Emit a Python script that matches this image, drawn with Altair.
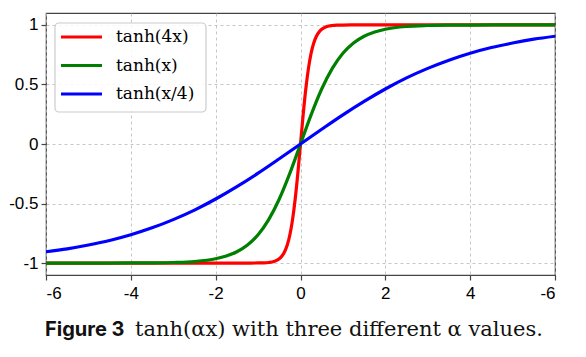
import altair as alt
import pandas as pd

# ---- data ----
series_names = ["tanh(4x)", "tanh(x)", "tanh(x/4)"]
series_colors = ["#ff0000", "#008000", "#0000ff"]

red_x = [-6, -1.5, -1, -0.875, -0.75, -0.625, -0.5, -0.4375, -0.375, -0.3125, -0.25, -0.1875, -0.125, -0.0625, 0,
         0.0625, 0.125, 0.1875, 0.25, 0.3125, 0.375, 0.4375, 0.5, 0.625, 0.75, 0.875, 1, 1.5, 6]
red_y = [-1.0, -1.0, -0.999, -0.998, -0.995, -0.987, -0.964, -0.941, -0.905, -0.848, -0.762, -0.635, -0.462, -0.245, 0.0,
         0.245, 0.462, 0.635, 0.762, 0.848, 0.905, 0.941, 0.964, 0.987, 0.995, 0.998, 0.999, 1.0, 1.0]

green_x = [-6, -5, -4, -3.5, -3, -2.5, -2, -1.75, -1.5, -1.25, -1, -0.75, -0.5, -0.25, 0,
           0.25, 0.5, 0.75, 1, 1.25, 1.5, 1.75, 2, 2.5, 3, 3.5, 4, 5, 6]
green_y = [-1.0, -1.0, -0.999, -0.998, -0.995, -0.987, -0.964, -0.941, -0.905, -0.848, -0.762, -0.635, -0.462, -0.245, 0.0,
           0.245, 0.462, 0.635, 0.762, 0.848, 0.905, 0.941, 0.964, 0.987, 0.995, 0.998, 0.999, 1.0, 1.0]

blue_x = [-6, -5.5, -5, -4.5, -4, -3.5, -3, -2.5, -2, -1.5, -1, -0.5, 0,
          0.5, 1, 1.5, 2, 2.5, 3, 3.5, 4, 4.5, 5, 5.5, 6]
blue_y = [-0.905, -0.880, -0.848, -0.810, -0.762, -0.704, -0.635, -0.555, -0.462, -0.358, -0.245, -0.124, 0.0,
          0.124, 0.245, 0.358, 0.462, 0.555, 0.635, 0.704, 0.762, 0.810, 0.848, 0.880, 0.905]

x_ticks = [-6, -4, -2, 0, 2, 4, 6]
x_tick_labels = ["-6", "-4", "-2", "0", "2", "4", "-6"]
y_ticks = [-1, -0.5, 0, 0.5, 1]
y_tick_labels = ["-1", "-0.5", "0", "0.5", "1"]

caption_bold = "Figure 3"
caption_rest = "tanh(αx) with three different α values."

# ---- build tables ----
frames = []
for name, xs, ys in zip(series_names, [red_x, green_x, blue_x], [red_y, green_y, blue_y]):
    frames.append(pd.DataFrame({"x": xs, "y": ys, "series": name}))
df = pd.concat(frames, ignore_index=True)

W, H = 509, 262

xlab = "{" + ",".join(f"'{v}':'{l}'" for v, l in zip(x_ticks, x_tick_labels)) + "}"
ylab = "{" + ",".join(f"'{v}':'{l}'" for v, l in zip(y_ticks, y_tick_labels)) + "}"

x_enc = alt.X("x:Q", scale=alt.Scale(domain=[-6, 6], nice=False, zero=False),
              axis=alt.Axis(values=x_ticks, labelExpr=f"{xlab}[''+datum.value]", title=None,
                            labelPadding=5))
y_enc = alt.Y("y:Q", scale=alt.Scale(domain=[-1.1, 1.1], nice=False, zero=False),
              axis=alt.Axis(values=y_ticks, labelExpr=f"{ylab}[''+datum.value]", title=None,
                            labelPadding=3))

line_layers = []
for name, col in zip(series_names, series_colors):
    line_layers.append(
        alt.Chart(df).transform_filter(alt.datum.series == name)
        .mark_line(strokeWidth=3.2, interpolate="monotone", clip=True)
        .encode(x=x_enc, y=y_enc, color=alt.value(col))
    )
lines = alt.layer(*line_layers)

# ---- legend (custom, inside the plot) ----
leg_df = pd.DataFrame({"label": series_names, "color": series_colors, "i": list(range(len(series_names)))})
box = alt.Chart(pd.DataFrame({"a": [0]})).mark_rect(
    fill="white", fillOpacity=0.85, stroke="#cccccc", strokeWidth=1.2, cornerRadius=4
).encode(x=alt.value(9), x2=alt.value(160), y=alt.value(10), y2=alt.value(99))
leg_base = alt.Chart(leg_df).transform_calculate(py="24 + datum.i * 28.5")
leg_rules = leg_base.mark_rule(strokeWidth=3.2).encode(
    x=alt.value(15), x2=alt.value(56),
    y=alt.Y("py:Q", scale=None),
    color=alt.Color("color:N", scale=None, legend=None),
)
leg_text = leg_base.mark_text(align="left", baseline="middle", font="DejaVu Serif", fontSize=17,
                              color="black").encode(
    x=alt.value(70), y=alt.Y("py:Q", scale=None), text="label:N"
)

# ---- caption ----
cap1 = alt.Chart(pd.DataFrame({"t": [caption_bold]})).mark_text(
    align="left", baseline="alphabetic", font="Inter", fontWeight="bold", fontSize=20, color="#111111"
).encode(x=alt.value(-1), y=alt.value(323), text="t:N")
cap2 = alt.Chart(pd.DataFrame({"t": [caption_rest]})).mark_text(
    align="left", baseline="alphabetic", font="DejaVu Serif", fontSize=21, color="#111111"
).encode(x=alt.value(89), y=alt.value(323), text="t:N")

overlay = alt.layer(box, leg_rules, leg_text, cap1, cap2)

chart = alt.layer(lines, overlay).resolve_scale(x="independent", y="independent").properties(
    width=W, height=H, padding={"left": 0, "top": 5, "right": 12, "bottom": 5}
).configure_view(
    stroke="#444444", strokeWidth=1.2
).configure_axis(
    domain=False, grid=True, gridDash=[3, 3], gridColor="#b8b8b8", gridWidth=0.8,
    tickColor="#444444", tickSize=5, tickWidth=1.2,
    labelFont="Liberation Sans", labelFontSize=17, labelColor="black",
)

chart.save("out.html", embed_options={"renderer": "svg", "actions": False})
